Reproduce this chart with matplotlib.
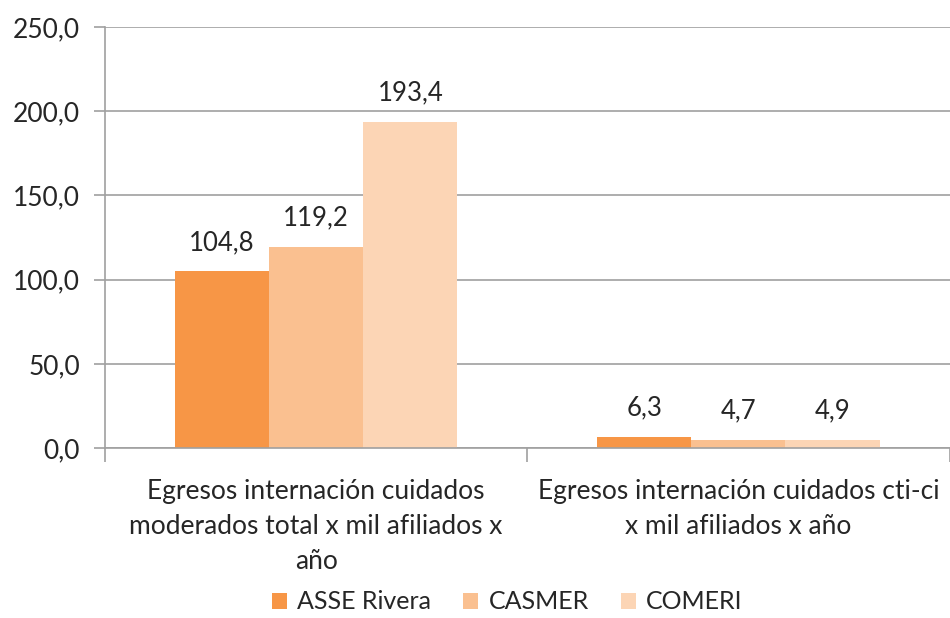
import matplotlib
matplotlib.use("Agg")
import matplotlib.pyplot as plt
import numpy as np

categories = ["Egresos internación cuidados\nmoderados total x mil afiliados x\naño",
              "Egresos internación cuidados cti-ci\nx mil afiliados x año"]
series = ["ASSE Rivera", "CASMER", "COMERI"]
values = {
    "ASSE Rivera": [104.8, 6.3],
    "CASMER": [119.2, 4.7],
    "COMERI": [193.4, 4.9],
}
colors = ["#F79646", "#FAC090", "#FCD5B5"]
yticks = [0, 50, 100, 150, 200, 250]

plt.rcParams['font.family'] = ['Lato', 'DejaVu Sans']
fig = plt.figure(figsize=(9.5, 6.18), dpi=100)
ax = fig.add_axes([0.1105, 0.275, 0.889, 0.6815])

x = np.arange(len(categories))
w = 0.223
txtc = "#262626"
gridc = "#A0A0A0"
fs = 19
for i, s in enumerate(series):
    pos = x + (i - 1) * w
    ax.bar(pos, values[s], width=w, color=colors[i], label=s, zorder=2)
    for xp, v in zip(pos, values[s]):
        ax.annotate(f"{v:.1f}".replace(".", ","), xy=(xp, v), xytext=(0, 21),
                    textcoords="offset points", ha="center", va="center",
                    fontsize=18.5, color=txtc)

ax.set_xlim(-0.5, 1.5)
ax.set_ylim(0, 250)
ax.set_yticks(yticks)
ax.set_yticklabels([f"{t:.1f}".replace(".", ",") for t in yticks], fontsize=fs, color=txtc)
ax.tick_params(axis='y', direction='out', length=8, color=gridc, width=1.2, pad=10)
ax.yaxis.grid(True, color=gridc, linewidth=1.2, zorder=0)
ax.set_axisbelow(True)

ax.set_xticks([-0.5, 0.5, 1.5])
ax.set_xticklabels([])
ax.tick_params(axis='x', direction='out', length=10, color=gridc, width=1.2)
ax.set_xticks(x, minor=True)
ax.set_xticklabels(categories, minor=True, fontsize=fs, color=txtc, linespacing=1.5)
ax.tick_params(axis='x', which='minor', length=0, pad=22)

for sp in ["top", "right"]:
    ax.spines[sp].set_visible(False)
for sp in ["left", "bottom"]:
    ax.spines[sp].set_color(gridc)
    ax.spines[sp].set_linewidth(1.2)

leg = fig.legend(loc="center", bbox_to_anchor=(0.534, 0.026), ncol=3, frameon=False,
                 fontsize=18, handlelength=0.6, handleheight=0.6, columnspacing=1.3,
                 handletextpad=0.4, borderpad=0.1)
for t in leg.get_texts():
    t.set_color(txtc)

fig.savefig("out.png", dpi=100)
